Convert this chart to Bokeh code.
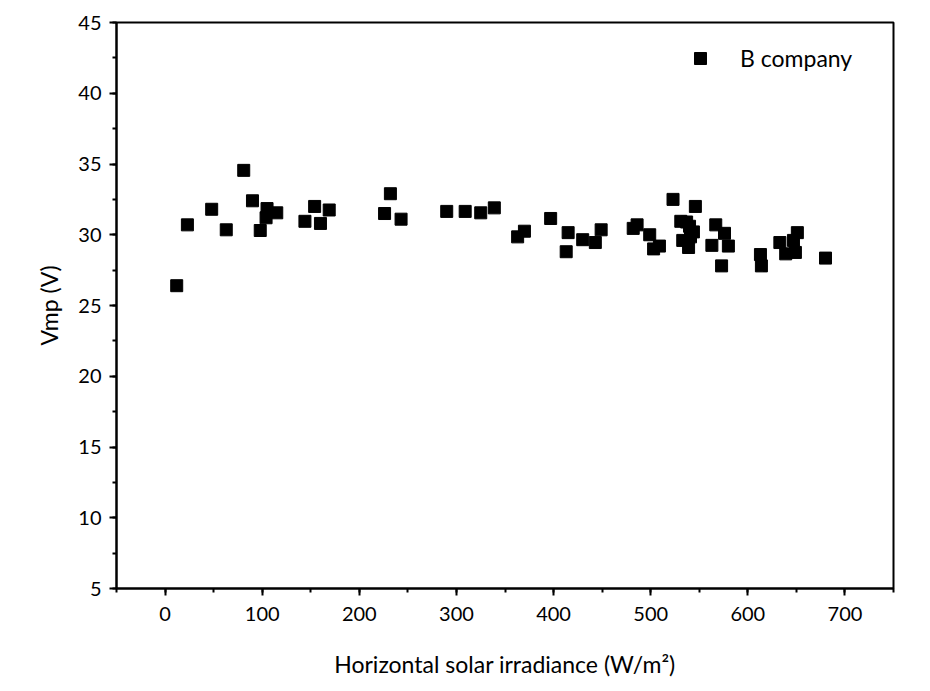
from bokeh.plotting import figure
from bokeh.models import Range1d, FixedTicker, Legend, LegendItem
from bokeh.embed import file_html
from bokeh.resources import INLINE

irradiance = [12, 23, 48, 63, 81, 90, 98, 104, 105, 115, 144, 154, 160, 169,
              226, 232, 243, 290, 309, 325, 339, 363, 370, 397, 413, 415,
              430, 443, 449, 482, 486, 499, 503, 509, 523, 531, 537, 540,
              533, 539, 541, 544, 546, 563, 567, 573, 576, 580, 613, 614,
              633, 639, 647, 649, 651, 680]
vmp = [26.4, 30.7, 31.8, 30.35, 34.55, 32.4, 30.3, 31.2, 31.85, 31.55, 30.95,
       32.0, 30.8, 31.75, 31.5, 32.9, 31.1, 31.65, 31.65, 31.55, 31.9, 29.85,
       30.25, 31.15, 28.8, 30.15, 29.65, 29.45, 30.35, 30.45, 30.7, 30.0,
       29.0, 29.2, 32.5, 30.95, 30.9, 30.6, 29.6, 29.1, 29.85, 30.2, 32.0,
       29.25, 30.7, 27.8, 30.1, 29.2, 28.6, 27.8, 29.45, 28.65, 29.6, 28.75,
       30.15, 28.35]

x_ticks = [0, 100, 200, 300, 400, 500, 600, 700]
y_ticks = [5, 10, 15, 20, 25, 30, 35, 40, 45]
series_name = "B company"

FONT = "Lato"

p = figure(width=922, height=680, output_backend="svg", toolbar_location=None,
           x_range=Range1d(-50, 750), y_range=Range1d(5, 45),
           frame_width=777, frame_height=566,
           min_border_left=116, min_border_top=22, min_border_right=29)

r = p.scatter(irradiance, vmp, marker="square", size=12, color="black")

p.xgrid.visible = False
p.ygrid.visible = False
p.outline_line_color = "black"
p.outline_line_width = 2
p.outline_line_alpha = 1

p.xaxis.ticker = FixedTicker(ticks=x_ticks, minor_ticks=[-50 + 50 * i for i in range(17)])
p.yaxis.ticker = FixedTicker(ticks=y_ticks, minor_ticks=[5 + 2.5 * i for i in range(17)])

for ax in (p.xaxis[0], p.yaxis[0]):
    ax.axis_line_width = 2
    ax.major_tick_line_width = 2
    ax.minor_tick_line_width = 2
    ax.major_tick_in = 0
    ax.major_tick_out = 7
    ax.minor_tick_in = 0
    ax.minor_tick_out = 4
    ax.major_label_text_font = FONT
    ax.major_label_text_font_size = "20px"
    ax.major_label_text_color = "black"
    ax.axis_label_text_font = FONT
    ax.axis_label_text_font_size = "23px"
    ax.axis_label_text_font_style = "normal"
    ax.axis_label_text_color = "black"

p.xaxis.axis_label = "Horizontal solar irradiance (W/m²)"
p.yaxis.axis_label = "Vmp (V)"
p.xaxis.major_label_standoff = 11
p.yaxis.major_label_standoff = 8
p.xaxis.axis_label_standoff = 26
p.yaxis.axis_label_standoff = 12

legend = Legend(items=[LegendItem(label=series_name, renderers=[r])],
                location=(569, 515), border_line_alpha=0,
                background_fill_alpha=0, margin=0, padding=0,
                label_standoff=25, glyph_width=30, glyph_height=30,
                label_text_font=FONT, label_text_font_size="23px",
                label_text_color="black")
p.add_layout(legend)

open("out.html", "w").write(file_html(p, INLINE))
